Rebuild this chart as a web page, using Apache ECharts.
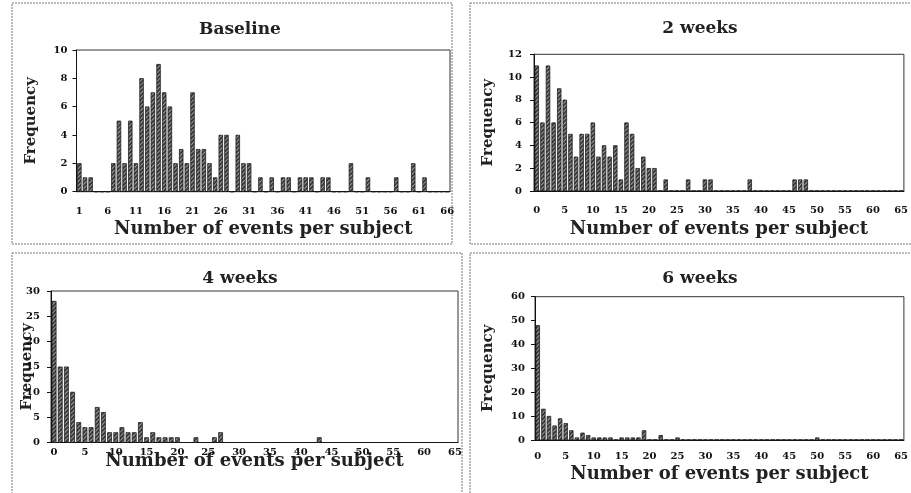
<!DOCTYPE html>
<html>
<head>
<meta charset="utf-8">
<script src="https://cdn.jsdelivr.net/npm/echarts@6.0.0/dist/echarts.min.js"></script>
<style>
  html, body { margin: 0; padding: 0; background: #fff; }
  #main { width: 911px; height: 493px; }
</style>
</head>
<body>
<div id="main"></div>
<script>
// frequency of subjects by number of events, one array per visit
var baselineFreq = [2,1,1,0,0,0,2,5,2,5, 2,8,6,7,9,7,6,2,3,2, 7,3,3,2,1,4,4,0,4,2,
                    2,0,1,0,1,0,1,1,0,1, 1,1,0,1,1,0,0,0,2,0, 0,1,0,0,0,0,1,0,0,2,
                    0,1,0,0,0,0];
var week2Freq = [11,6,11,6,9,8,5,3,5,5, 6,3,4,3,4,1,6,5,2,3, 2,2,0,1,0,0,0,1,0,0,
                 1,1,0,0,0,0,0,0,1,0, 0,0,0,0,0,0,1,1,1,0, 0,0,0,0,0,0,0,0,0,0,
                 0,0,0,0,0,0];
var week4Freq = [28,15,15,10,4,3,3,7,6,2, 2,3,2,2,4,1,2,1,1,1, 1,0,0,1,0,0,1,2,0,0,
                 0,0,0,0,0,0,0,0,0,0, 0,0,0,1,0,0,0,0,0,0, 0,0,0,0,0,0,0,0,0,0,
                 0,0,0,0,0,0];
var week6Freq = [48,13,10,6,9,7,4,1,3,2, 1,1,1,1,0,1,1,1,1,4, 0,0,2,0,0,1,0,0,0,0,
                 0,0,0,0,0,0,0,0,0,0, 0,0,0,0,0,0,0,0,0,0, 1,0,0,0,0,0,0,0,0,0,
                 0,0,0,0,0,0];

var titles = ['Baseline', '2 weeks', '4 weeks', '6 weeks'];
var yMax = [10, 12, 30, 60];
var yStep = [2, 2, 5, 10];

// category labels: baseline starts at 1, follow-ups at 0
var baselineCats = [], followCats = [];
for (var i = 0; i < 66; i++) {
  baselineCats.push(String(i + 1));
  followCats.push(String(i));
}

var font = 'DejaVu Serif';
var myChart = echarts.init(document.getElementById('main'));

var grids = [
  { left: 76.5, top: 50, width: 373.5, height: 141.7 },
  { left: 534, top: 54.3, width: 377, height: 136.7 },
  { left: 51, top: 291, width: 407, height: 151.5 },
  { left: 535, top: 296.7, width: 377, height: 143.3 }
];
var titlePos = [[235, 16], [695, 15], [235, 265], [695, 265]];
var xLabelMargin = [15, 14, 5, 11];
var xNameGap = [29, 29, 10, 25];
var yNameGap = [38, 38, 16, 39];
var yLabelMargin = [9, 12, 11, 10];
var cats = [baselineCats, followCats, followCats, followCats];
var freqs = [baselineFreq, week2Freq, week4Freq, week6Freq];

var option = {
  backgroundColor: '#fff',
  animation: false,
  textStyle: { fontFamily: font },
  title: [],
  grid: [],
  xAxis: [],
  yAxis: [],
  series: [],
  graphic: [
    { type: 'rect', shape: { x: 12, y: 3, width: 440, height: 241 }, style: { fill: 'none', stroke: '#777', lineWidth: 1, lineDash: [2, 1] } },
    { type: 'rect', shape: { x: 470, y: 3, width: 445, height: 241 }, style: { fill: 'none', stroke: '#777', lineWidth: 1, lineDash: [2, 1] } },
    { type: 'rect', shape: { x: 12, y: 253, width: 450, height: 245 }, style: { fill: 'none', stroke: '#777', lineWidth: 1, lineDash: [2, 1] } },
    { type: 'rect', shape: { x: 470, y: 253, width: 445, height: 245 }, style: { fill: 'none', stroke: '#777', lineWidth: 1, lineDash: [2, 1] } }
  ]
};

for (var p = 0; p < 4; p++) {
  option.title.push({
    text: titles[p],
    left: titlePos[p][0],
    top: titlePos[p][1],
    textAlign: 'center',
    textStyle: { fontFamily: font, fontSize: 17, fontWeight: 'bold', color: '#222' }
  });
  option.grid.push({
    left: grids[p].left, top: grids[p].top, width: grids[p].width, height: grids[p].height,
    show: true, borderColor: '#333', borderWidth: 1, backgroundColor: '#fff'
  });
  option.xAxis.push({
    type: 'category',
    gridIndex: p,
    data: cats[p],
    name: 'Number of events per subject',
    nameLocation: 'middle',
    nameGap: xNameGap[p],
    nameMoveOverlap: false,
    nameTextStyle: { fontFamily: font, fontSize: 18, fontWeight: 'bold', color: '#222' },
    axisLine: { lineStyle: { color: '#111', width: 1 } },
    axisTick: { interval: 0, length: 4, lineStyle: { color: '#111' } },
    axisLabel: { interval: 4, margin: xLabelMargin[p], fontFamily: font, fontSize: 10, fontWeight: 'bold', color: '#111' },
    splitLine: { show: false }
  });
  option.yAxis.push({
    type: 'value',
    gridIndex: p,
    min: 0,
    max: yMax[p],
    interval: yStep[p],
    name: 'Frequency',
    nameLocation: 'middle',
    nameGap: yNameGap[p],
    nameMoveOverlap: false,
    nameRotate: 90,
    nameTextStyle: { fontFamily: font, fontSize: 15, fontWeight: 'bold', color: '#222' },
    axisLine: { show: true, lineStyle: { color: '#111', width: 1 } },
    axisTick: { show: true, length: 4, lineStyle: { color: '#111' } },
    axisLabel: { margin: yLabelMargin[p], fontFamily: font, fontSize: 10, fontWeight: 'bold', color: '#111' },
    splitLine: { show: false }
  });
  option.series.push({
    type: 'bar',
    xAxisIndex: p,
    yAxisIndex: p,
    data: freqs[p],
    barCategoryGap: '28%',
    itemStyle: {
      color: '#3c3c3c',
      borderColor: '#1a1a1a',
      borderWidth: 0.5,
      decal: {
        symbol: 'rect',
        dashArrayX: [1, 0],
        dashArrayY: [1, 2],
        rotation: -Math.PI / 4,
        color: 'rgba(255,255,255,0.5)'
      }
    }
  });
}

myChart.setOption(option);
</script>
</body>
</html>
